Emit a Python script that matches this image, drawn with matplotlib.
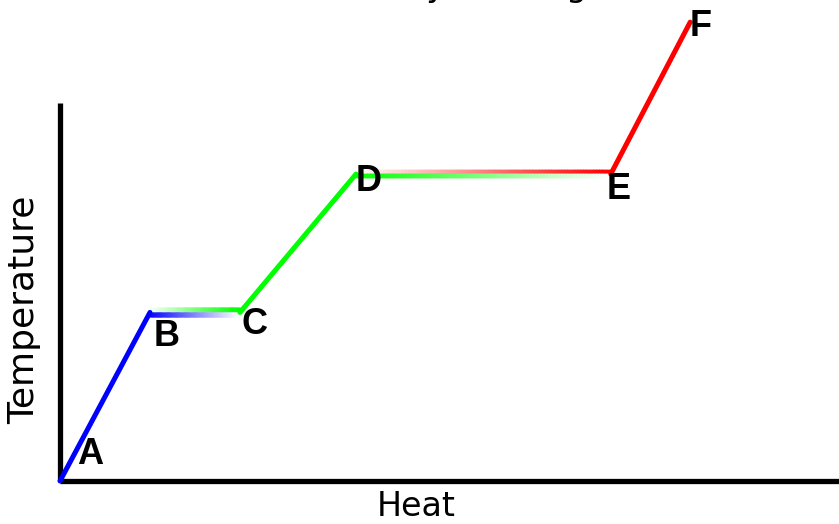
import numpy as np
import matplotlib
matplotlib.use("Agg")
import matplotlib.pyplot as plt
from matplotlib.collections import LineCollection
from matplotlib import transforms
from matplotlib.colors import to_rgb

# heating curve points (arbitrary units)
labels = ["A", "B", "C", "D", "E", "F"]
heat = [0.0, 1.155, 2.31, 3.80, 7.07, 8.09]
temp = [0.0, 4.46, 4.46, 8.12, 8.12, 12.14]

# sloped segments and their colours
slopes = [(0, 1, "#0000ff"), (2, 3, "#00ff00"), (4, 5, "#ff0000")]
# plateaus: (start, end, upper strand colour, lower strand colour)
plateaus = [(1, 2, "#00ff00", "#0000ff"), (3, 4, "#ff0000", "#00ff00")]

# label offsets from each point, in pixels
label_dx = [30, 17, 15, 13, 8, 10]
label_dy = [26, -24, -12, -7, -15, -4]

fig = plt.figure(figsize=(8.39, 5.24), dpi=100)
ax = fig.add_axes([60 / 839, 43 / 524, 779 / 839, 378 / 524])
ax.set_xlim(0, 10)
ax.set_ylim(0, 10)

for side in ["top", "right"]:
    ax.spines[side].set_visible(False)
for side in ["left", "bottom"]:
    ax.spines[side].set_linewidth(3.8)
    ax.spines[side].set_capstyle("butt")
ax.set_xticks([])
ax.set_yticks([])

for i, j, col in slopes:
    ax.plot([heat[i], heat[j]], [temp[i], temp[j]], color=col, lw=3.6,
            solid_capstyle="round", clip_on=False, zorder=3)


def fade_strand(i, j, col, solid_at_end, dy):
    # plateau strand that fades from full colour to white
    n = 80
    xs = np.linspace(heat[i], heat[j], n + 1)
    ys = np.linspace(temp[i], temp[j], n + 1)
    segs = [[(xs[k], ys[k]), (xs[k + 1], ys[k + 1])] for k in range(n)]
    t = (np.arange(n) + 0.5) / n
    if not solid_at_end:
        t = 1 - t
    rgb = np.array(to_rgb(col))
    cols = [tuple(1 - tt * (1 - rgb)) for tt in t]
    tr = transforms.offset_copy(ax.transData, fig=fig, y=dy, units="dots")
    lc = LineCollection(segs, colors=cols, linewidths=3.2, transform=tr,
                        capstyle="projecting", zorder=2)
    ax.add_collection(lc)


for i, j, up, low in plateaus:
    fade_strand(i, j, up, True, 2.3)
    fade_strand(i, j, low, False, -2.3)

for k, lab in enumerate(labels):
    ax.annotate(lab, xy=(heat[k], temp[k]), xytext=(label_dx[k], label_dy[k]),
                textcoords="offset pixels", ha="center", va="center",
                fontsize=26, fontweight="bold", family="Liberation Sans",
                annotation_clip=False, zorder=4)

fig.text(416 / 839, 1 / 524, "Heat", ha="center", va="bottom",
         fontsize=24, family="DejaVu Sans")
fig.text(24 / 839, 214 / 524, "Temperature", rotation=90, ha="center",
         va="center", fontsize=26, family="DejaVu Sans")

# title sits mostly above the top edge, only descenders show
fig.text(587 / 839, 1 + 4 / 524, "States of Matter by Heating", ha="right",
         va="baseline", fontsize=24, family="DejaVu Sans")

fig.savefig("out.png", dpi=100)
